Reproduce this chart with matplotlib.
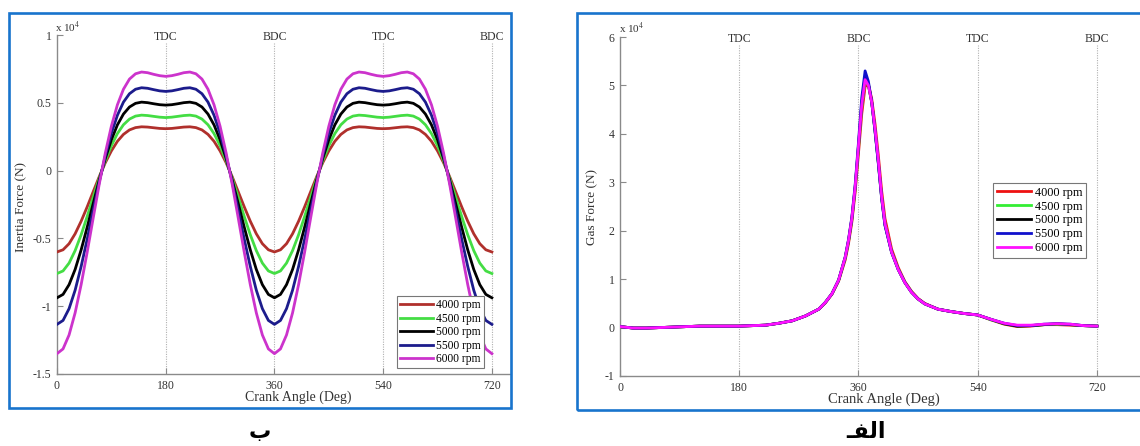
import matplotlib
matplotlib.use("Agg")
import matplotlib.pyplot as plt
from matplotlib.patches import Rectangle
import matplotlib.transforms as mtransforms

plt.rcParams['font.family'] = ['Liberation Serif', 'DejaVu Serif']
plt.rcParams['mathtext.fontset'] = 'stix'

# ---------------- data ----------------
rpm_labels = ["4000 rpm", "4500 rpm", "5000 rpm", "5500 rpm", "6000 rpm"]

# Inertia force (x 10^4 N), crank angle 0..720 step 10
inertia_angle = list(range(0, 721, 10))
inertia_4000 = [-0.600, -0.584, -0.539, -0.466, -0.373, -0.267, -0.155, -0.044, 0.058, 0.145, 0.216, 0.267, 0.300, 0.317, 0.323, 0.321, 0.316, 0.311, 0.309,
                0.311, 0.316, 0.321, 0.323, 0.317, 0.300, 0.267, 0.216, 0.145, 0.058, -0.044, -0.155, -0.267, -0.373, -0.466, -0.539, -0.584,
                -0.600, -0.584, -0.539, -0.466, -0.373, -0.267, -0.155, -0.044, 0.058, 0.145, 0.216, 0.267, 0.300, 0.317, 0.323, 0.321, 0.316, 0.311, 0.309,
                0.311, 0.316, 0.321, 0.323, 0.317, 0.300, 0.267, 0.216, 0.145, 0.058, -0.044, -0.155, -0.267, -0.373, -0.466, -0.539, -0.584, -0.600]
inertia_4500 = [-0.759, -0.740, -0.682, -0.590, -0.473, -0.338, -0.196, -0.056, 0.073, 0.184, 0.273, 0.338, 0.380, 0.402, 0.409, 0.406, 0.400, 0.394, 0.391,
                0.394, 0.400, 0.406, 0.409, 0.402, 0.380, 0.338, 0.273, 0.184, 0.073, -0.056, -0.196, -0.338, -0.473, -0.590, -0.682, -0.740,
                -0.759, -0.740, -0.682, -0.590, -0.473, -0.338, -0.196, -0.056, 0.073, 0.184, 0.273, 0.338, 0.380, 0.402, 0.409, 0.406, 0.400, 0.394, 0.391,
                0.394, 0.400, 0.406, 0.409, 0.402, 0.380, 0.338, 0.273, 0.184, 0.073, -0.056, -0.196, -0.338, -0.473, -0.590, -0.682, -0.740, -0.759]
inertia_5000 = [-0.938, -0.913, -0.841, -0.729, -0.584, -0.417, -0.242, -0.069, 0.090, 0.227, 0.337, 0.417, 0.469, 0.496, 0.505, 0.501, 0.493, 0.486, 0.483,
                0.486, 0.493, 0.501, 0.505, 0.496, 0.469, 0.417, 0.337, 0.227, 0.090, -0.069, -0.242, -0.417, -0.584, -0.729, -0.841, -0.913,
                -0.938, -0.913, -0.841, -0.729, -0.584, -0.417, -0.242, -0.069, 0.090, 0.227, 0.337, 0.417, 0.469, 0.496, 0.505, 0.501, 0.493, 0.486, 0.483,
                0.486, 0.493, 0.501, 0.505, 0.496, 0.469, 0.417, 0.337, 0.227, 0.090, -0.069, -0.242, -0.417, -0.584, -0.729, -0.841, -0.913, -0.938]
inertia_5500 = [-1.134, -1.105, -1.018, -0.882, -0.706, -0.505, -0.292, -0.083, 0.109, 0.275, 0.408, 0.505, 0.567, 0.600, 0.611, 0.607, 0.597, 0.588, 0.584,
                0.588, 0.597, 0.607, 0.611, 0.600, 0.567, 0.505, 0.408, 0.275, 0.109, -0.083, -0.292, -0.505, -0.706, -0.882, -1.018, -1.105,
                -1.134, -1.105, -1.018, -0.882, -0.706, -0.505, -0.292, -0.083, 0.109, 0.275, 0.408, 0.505, 0.567, 0.600, 0.611, 0.607, 0.597, 0.588, 0.584,
                0.588, 0.597, 0.607, 0.611, 0.600, 0.567, 0.505, 0.408, 0.275, 0.109, -0.083, -0.292, -0.505, -0.706, -0.882, -1.018, -1.105, -1.134]
inertia_6000 = [-1.350, -1.315, -1.212, -1.049, -0.840, -0.601, -0.348, -0.099, 0.130, 0.327, 0.485, 0.600, 0.675, 0.714, 0.727, 0.722, 0.710, 0.700, 0.695,
                0.700, 0.710, 0.722, 0.727, 0.714, 0.675, 0.600, 0.485, 0.327, 0.130, -0.099, -0.348, -0.601, -0.840, -1.049, -1.212, -1.315,
                -1.350, -1.315, -1.212, -1.049, -0.840, -0.601, -0.348, -0.099, 0.130, 0.327, 0.485, 0.600, 0.675, 0.714, 0.727, 0.722, 0.710, 0.700, 0.695,
                0.700, 0.710, 0.722, 0.727, 0.714, 0.675, 0.600, 0.485, 0.327, 0.130, -0.099, -0.348, -0.601, -0.840, -1.049, -1.212, -1.315, -1.350]

# Gas force (x 10^4 N)
gas_angle = [0, 20, 40, 60, 80, 100, 120, 140, 160, 180, 200, 220, 240, 260, 280, 300, 310, 320, 330, 340,
             345, 350, 355, 360, 365, 370, 375, 380, 385, 390, 395, 400, 410, 420, 430, 440, 450, 460,
             480, 500, 520, 540, 560, 580, 600, 620, 640, 660, 680, 700, 720]
gas_4000 = [0.02, -0.01, -0.01, 0.00, 0.01, 0.02, 0.03, 0.03, 0.03, 0.03, 0.04, 0.05, 0.09, 0.14, 0.24, 0.38, 0.51, 0.69, 0.96, 1.40,
            1.74, 2.18, 2.80, 3.60, 4.42, 4.98, 5.02, 4.72, 4.20, 3.55, 2.82, 2.25, 1.62, 1.24, 0.95, 0.75, 0.60, 0.50,
            0.38, 0.33, 0.29, 0.26, 0.16, 0.07, 0.02, 0.03, 0.06, 0.06, 0.05, 0.04, 0.03]
gas_4500 = [0.02, -0.01, -0.01, 0.00, 0.01, 0.02, 0.03, 0.03, 0.03, 0.03, 0.04, 0.05, 0.09, 0.14, 0.24, 0.38, 0.52, 0.70, 0.97, 1.43,
            1.78, 2.22, 2.86, 3.70, 4.55, 5.10, 5.00, 4.65, 4.08, 3.42, 2.70, 2.15, 1.57, 1.21, 0.94, 0.74, 0.59, 0.49,
            0.38, 0.33, 0.29, 0.26, 0.16, 0.08, 0.03, 0.04, 0.06, 0.07, 0.06, 0.04, 0.03]
gas_5000 = [0.02, -0.01, -0.01, 0.00, 0.01, 0.02, 0.03, 0.03, 0.03, 0.03, 0.04, 0.05, 0.09, 0.14, 0.24, 0.38, 0.52, 0.70, 0.98, 1.45,
            1.80, 2.25, 2.90, 3.75, 4.62, 5.18, 5.02, 4.65, 4.06, 3.40, 2.68, 2.12, 1.56, 1.20, 0.93, 0.73, 0.59, 0.49,
            0.38, 0.33, 0.29, 0.26, 0.17, 0.08, 0.03, 0.04, 0.06, 0.08, 0.06, 0.04, 0.03]
gas_5500 = [0.02, -0.01, -0.01, 0.00, 0.01, 0.02, 0.03, 0.03, 0.03, 0.03, 0.04, 0.05, 0.09, 0.14, 0.24, 0.38, 0.52, 0.70, 0.98, 1.46,
            1.82, 2.28, 2.95, 3.82, 4.75, 5.30, 5.08, 4.66, 4.05, 3.38, 2.66, 2.11, 1.55, 1.20, 0.93, 0.73, 0.59, 0.49,
            0.38, 0.33, 0.29, 0.26, 0.17, 0.09, 0.04, 0.04, 0.07, 0.08, 0.07, 0.04, 0.03]
gas_6000 = [0.02, -0.01, -0.01, 0.00, 0.01, 0.02, 0.03, 0.03, 0.03, 0.03, 0.04, 0.05, 0.09, 0.14, 0.24, 0.38, 0.52, 0.70, 0.98, 1.45,
            1.80, 2.25, 2.90, 3.75, 4.60, 5.12, 5.00, 4.65, 4.10, 3.45, 2.70, 2.15, 1.56, 1.20, 0.93, 0.73, 0.59, 0.49,
            0.38, 0.33, 0.29, 0.26, 0.17, 0.09, 0.05, 0.05, 0.07, 0.08, 0.07, 0.04, 0.03]

xticks = [0, 180, 360, 540, 720]
dead_centers = [(180, "TDC"), (360, "BDC"), (540, "TDC"), (720, "BDC")]
inertia_yticks = [-1.5, -1, -0.5, 0, 0.5, 1]
inertia_yticklabels = ["-1.5", "-1", "-0.5", "0", "0.5", "1"]
gas_yticks = [-1, 0, 1, 2, 3, 4, 5, 6]
gas_yticklabels = ["-1", "0", "1", "2", "3", "4", "5", "6"]

left_colors = ["#b0302c", "#44dd44", "#000000", "#1c1c8c", "#cc33cc"]
right_colors = ["#ee1111", "#33ee33", "#000000", "#1010cc", "#ff11ff"]

# ---------------- figure ----------------
W, H = 1140, 446
fig = plt.figure(figsize=(W / 100, H / 100), dpi=100)


def fx(px):
    return px / W


def fy(py):
    return (H - py) / H


def setup(ax, xmax, ylim, yticks, yticklabels, topfrac):
    ax.set_xlim(0, xmax)
    ax.set_ylim(*ylim)
    for s in ["top", "right"]:
        ax.spines[s].set_visible(False)
    for s in ["left", "bottom"]:
        ax.spines[s].set_color("#8a8a8a")
        ax.spines[s].set_linewidth(1.0)
    ax.set_xticks(xticks)
    ax.set_xticklabels([str(t) for t in xticks])
    ax.set_yticks(yticks)
    ax.set_yticklabels(yticklabels)
    ax.tick_params(direction="in", length=4, width=0.8, color="#8a8a8a",
                   labelsize=8.5, labelcolor="#333333", pad=4)
    trans = mtransforms.blended_transform_factory(ax.transData, ax.transAxes)
    for xv, lab in dead_centers:
        ax.plot([xv, xv], [0, topfrac], transform=trans, color="#b0b0b0",
                lw=0.8, ls=(0, (1, 1.2)), zorder=1, clip_on=False)
        ax.text(xv, 0.994, lab, transform=trans, ha="center", va="center",
                fontsize=8.5, color="#333333")


# Left panel: inertia force
axL = fig.add_axes([fx(57), fy(374), fx(510) - fx(57), fy(35) - fy(374)])
setup(axL, 750, (-1.5, 1), inertia_yticks, inertia_yticklabels, 0.976)
for vals, c, lab in zip([inertia_4000, inertia_4500, inertia_5000, inertia_5500, inertia_6000],
                        left_colors, rpm_labels):
    axL.plot(inertia_angle, vals, color=c, lw=2.0, label=lab, zorder=3)
legL = axL.legend(loc="upper left", bbox_to_anchor=(0.7506, 0.230), borderaxespad=0,
                  fontsize=8.3, handlelength=2.8, handletextpad=0.3, labelspacing=0.12,
                  borderpad=0.3, fancybox=False, framealpha=1, edgecolor="#777777")
legL.get_frame().set_linewidth(0.8)
legL.set_zorder(10)

# Right panel: gas force
axR = fig.add_axes([fx(620), fy(376), fx(1140) - fx(620), fy(37) - fy(376)])
setup(axR, 785, (-1, 6), gas_yticks, gas_yticklabels, 0.976)
for vals, c, lab in zip([gas_4000, gas_4500, gas_5000, gas_5500, gas_6000],
                        right_colors, rpm_labels):
    axR.plot(gas_angle, vals, color=c, lw=2.0, label=lab, zorder=3)
legR = axR.legend(loc="upper left", bbox_to_anchor=(0.717, 0.569), borderaxespad=0,
                  fontsize=8.8, handlelength=2.85, handletextpad=0.3, labelspacing=0.15,
                  borderpad=0.3, fancybox=False, framealpha=1, edgecolor="#777777")
legR.get_frame().set_linewidth(0.8)
legR.set_zorder(10)

# axis labels
fig.text(fx(298), fy(397), "Crank Angle (Deg)", ha="center", va="center", fontsize=10, color="#333333")
fig.text(fx(884), fy(399), "Crank Angle (Deg)", ha="center", va="center", fontsize=10.5, color="#333333")
fig.text(fx(21), fy(207), "Inertia Force (N)", ha="center", va="center", rotation=90, fontsize=9.5, color="#333333")
fig.text(fx(592), fy(207), "Gas Force (N)", ha="center", va="center", rotation=90, fontsize=9.5, color="#333333")

# multipliers
fig.text(fx(55), fy(27), r"x 10$^{4}$", ha="left", va="center", fontsize=8, color="#333333")
fig.text(fx(619), fy(28), r"x 10$^{4}$", ha="left", va="center", fontsize=8, color="#333333")

# blue frames
fig.patches.append(Rectangle((fx(9), fy(408)), fx(511) - fx(9), fy(13) - fy(408), fill=False,
                             edgecolor="#1874cd", lw=1.9, transform=fig.transFigure, figure=fig))
fig.patches.append(Rectangle((fx(577), fy(410)), fx(1150) - fx(577), fy(13) - fy(410), fill=False,
                             edgecolor="#1874cd", lw=1.9, transform=fig.transFigure, figure=fig))

# panel letters (Persian), visual order with presentation forms
fig.text(fx(260), fy(432), "\uFE8F", ha="center", va="center", fontsize=16, fontweight="bold",
         family=["DejaVu Sans"], color="black")
fig.text(fx(866), fy(432), "\u0640\uFED4\uFEDF\uFE8D", ha="center", va="center", fontsize=16,
         fontweight="bold", family=["DejaVu Sans"], color="black")

fig.savefig("out.png", dpi=100)
